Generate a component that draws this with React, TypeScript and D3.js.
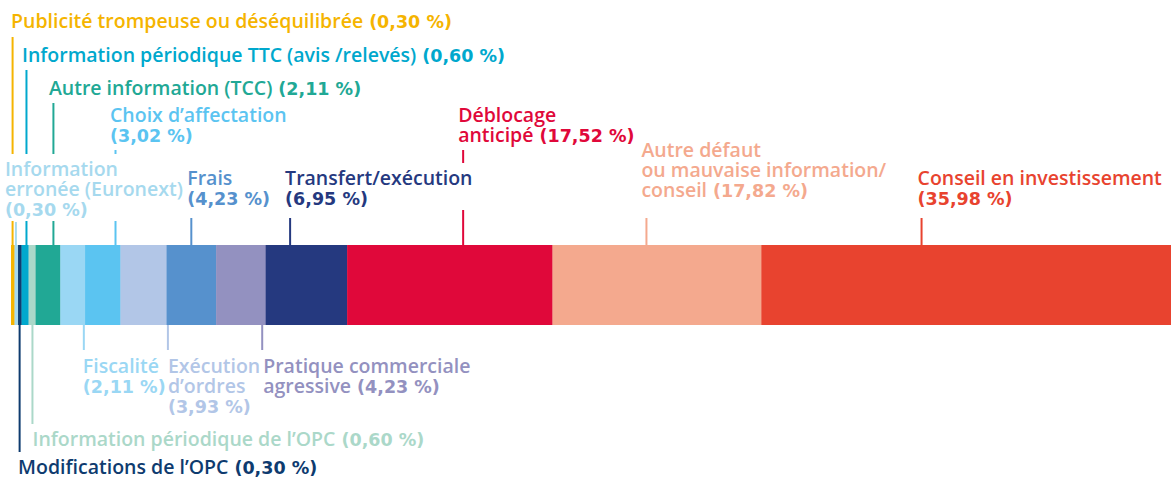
import React, { useEffect, useRef } from 'react';
import * as d3 from 'd3';

// Réclamations par thème (% du total)
const categories = [
  'Publicité trompeuse ou déséquilibrée',
  'Information erronée (Euronext)',
  'Modifications de l’OPC',
  'Information périodique TTC (avis/relevés)',
  'Information périodique de l’OPC',
  'Autre information (TCC)',
  'Fiscalité',
  'Choix d’affectation',
  'Exécution d’ordres',
  'Frais',
  'Pratique commerciale agressive',
  'Transfert/exécution',
  'Déblocage anticipé',
  'Autre défaut ou mauvaise information/conseil',
  'Conseil en investissement',
];
const values = [0.30, 0.30, 0.30, 0.60, 0.60, 2.11, 2.11, 3.02, 3.93, 4.23, 4.23, 6.95, 17.52, 17.82, 35.98];

// label text, wrapped as in the original (percentage appended to the last line)
const labelLines = [
  ['Publicité trompeuse ou déséquilibrée'],
  ['Information', 'erronée (Euronext)', ''],
  ['Modifications de l’OPC'],
  ['Information périodique TTC (avis /relevés)'],
  ['Information périodique de l’OPC'],
  ['Autre information (TCC)'],
  ['Fiscalité', ''],
  ['Choix d’affectation', ''],
  ['Exécution', 'd’ordres', ''],
  ['Frais', ''],
  ['Pratique commerciale', 'agressive'],
  ['Transfert/exécution', ''],
  ['Déblocage', 'anticipé'],
  ['Autre défaut', 'ou mauvaise information/', 'conseil'],
  ['Conseil en investissement', ''],
];

const colors = [
  '#F5B400', '#A6D9EE', '#0E3B6F', '#00A8CD', '#ABD8C9', '#21A895', '#9AD7F4', '#5BC4F1',
  '#B2C6E7', '#5691CD', '#9391C0', '#25397F', '#E0083A', '#F4A98E', '#E8432F',
];

// annotation layout: side, position of the leader inside the segment, label offset, first baseline, leader end
const annotations = [
  { side: 'top', frac: 0.45, dx: -1.5, y: 28, end: 37 },
  { side: 'top', frac: 0.4, dx: -11, y: 176, end: 222 },
  { side: 'bottom', frac: 0.45, dx: -1.5, y: 474, end: 456 },
  { side: 'top', frac: 0.7, dx: -4.5, y: 62, end: 70 },
  { side: 'bottom', frac: 0.55, dx: 0, y: 446, end: 426 },
  { side: 'top', frac: 0.72, dx: -4.5, y: 95, end: 103 },
  { side: 'bottom', frac: 0.95, dx: -1, y: 373, end: 350 },
  { side: 'top', frac: 0.86, dx: -5.5, y: 122, end: 150 },
  { side: 'bottom', frac: 1.03, dx: 0, y: 373, end: 350 },
  { side: 'top', frac: 0.5, dx: -4, y: 185, end: 218 },
  { side: 'bottom', frac: 0.93, dx: 1, y: 373, end: 350 },
  { side: 'top', frac: 0.3, dx: -5, y: 185, end: 218 },
  { side: 'top', frac: 0.565, dx: -5, y: 122, end: 150 },
  { side: 'top', frac: 0.45, dx: -5, y: 157, end: 218 },
  { side: 'top', frac: 0.38, dx: -4, y: 185, end: 218 },
];

const W = 1171;
const H = 479;

const App = () => {
  const ref = useRef<SVGSVGElement>(null);

  useEffect(() => {
    const svg = d3.select(ref.current);
    svg.selectAll('*').remove();

    const barTop = 245;
    const barBottom = 325;
    const lineH = 20;

    const x = d3.scaleLinear().domain([0, 100]).range([11, 11 + 1172]);

    const starts = values.map((_, i) => d3.sum(values.slice(0, i)));
    const fmt = (v: number) => `(${v.toFixed(2).replace('.', ',')} %)`;

    // segments
    svg.selectAll('rect.seg')
      .data(values)
      .enter()
      .append('rect')
      .attr('class', 'seg')
      .attr('x', (d, i) => x(starts[i]))
      .attr('y', barTop)
      .attr('width', (d) => x(d) - x(0) + 0.3)
      .attr('height', barBottom - barTop)
      .attr('fill', (d, i) => colors[i]);

    // leader lines
    const lx = (i: number) => x(starts[i] + annotations[i].frac * values[i]);
    svg.selectAll('line.lead')
      .data(annotations)
      .enter()
      .append('line')
      .attr('class', 'lead')
      .attr('x1', (d, i) => lx(i))
      .attr('x2', (d, i) => lx(i))
      .attr('y1', (d) => d.end)
      .attr('y2', (d) => (d.side === 'top' ? barTop : barBottom))
      .attr('stroke', (d, i) => colors[i])
      .attr('stroke-width', 2);

    // labels (white knockout behind each block)
    const groups = svg.selectAll('g.lab')
      .data(annotations)
      .enter()
      .append('g')
      .attr('class', 'lab');

    groups.each(function (a, i) {
      const g = d3.select(this);
      const bg = g.append('rect').attr('fill', '#fff');
      const t = g.append('text')
        .attr('fill', colors[i])
        .style('font-family', '"Open Sans", sans-serif')
        .style('font-size', '19.5px')
        .style('font-weight', 600);
      const lines = labelLines[i];
      lines.forEach((ln, k) => {
        t.append('tspan')
          .attr('x', lx(i) + a.dx)
          .attr('y', a.y + k * lineH)
          .text(ln);
        if (k === lines.length - 1) {
          const p = t.append('tspan')
            .style('font-family', '"DejaVu Sans", sans-serif')
            .style('font-size', '17.5px')
            .style('font-weight', 700)
            .text(fmt(values[i]));
          if (ln) p.attr('dx', 6);
          else p.attr('x', lx(i) + a.dx).attr('y', a.y + k * lineH);
        }
      });
      const bb = (t.node() as SVGTextElement).getBBox();
      bg.attr('x', bb.x - 3).attr('y', bb.y - 1)
        .attr('width', bb.width + 6).attr('height', bb.height + 2);
    });
  }, []);

  return (
    <svg
      ref={ref}
      width={W}
      height={H}
      style={{ position: 'absolute', left: 0, top: 0, background: '#fff' }}
    />
  );
};

export default App;
